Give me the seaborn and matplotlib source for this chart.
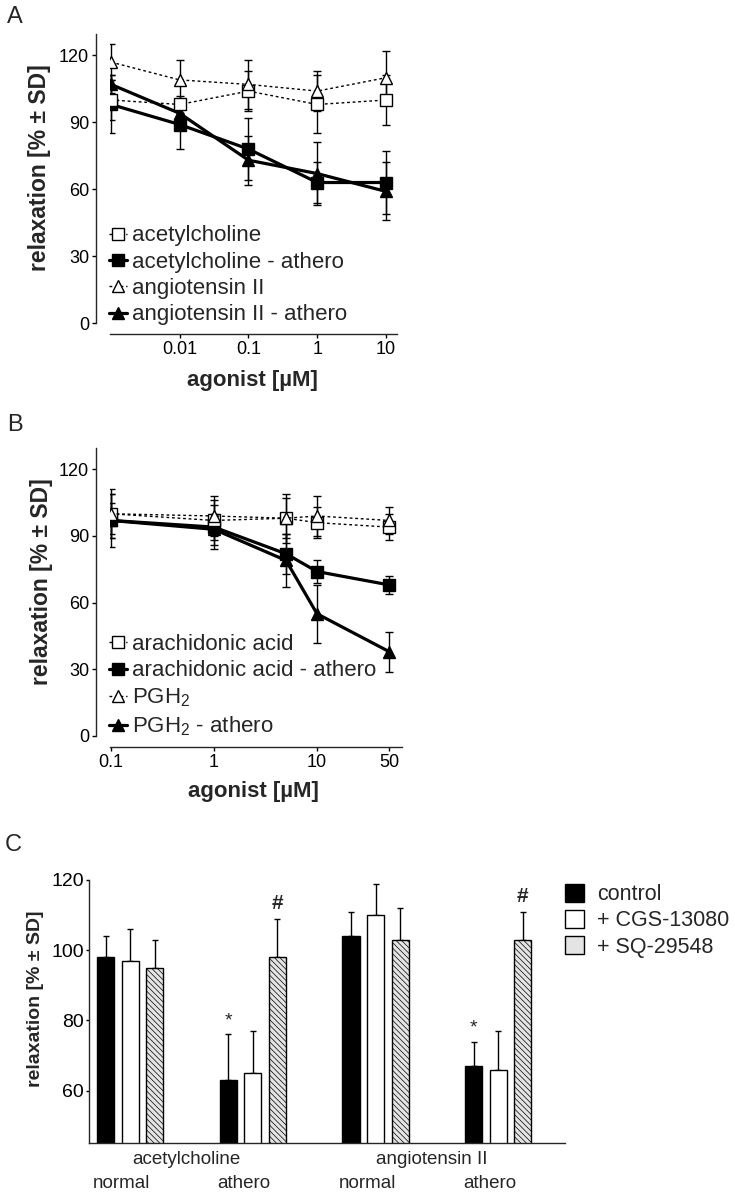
import numpy as np
import pandas as pd
import matplotlib
matplotlib.use("Agg")
import matplotlib.pyplot as plt
import seaborn as sns

# panel A - acetylcholine / angiotensin II
conc_a = [0.001, 0.01, 0.1, 1, 10]
ach = [100, 98, 104, 98, 100]
ach_sd = [9, 4, 9, 13, 11]
ach_ath = [98, 89, 78, 63, 63]
ach_ath_sd = [13, 11, 14, 9, 14]
ang = [117, 109, 107, 104, 110]
ang_sd = [8, 9, 11, 9, 12]
ang_ath = [107, 94, 73, 67, 59]
ang_ath_sd = [4, 5, 11, 14, 13]

# panel B - arachidonic acid / PGH2
conc_b = [0.1, 1, 5, 10, 50]
aa = [100, 97, 98, 96, 94]
aa_sd = [9, 9, 11, 7, 6]
aa_ath = [97, 94, 82, 74, 68]
aa_ath_sd = [12, 10, 9, 5, 4]
pgh = [100, 99, 98, 99, 97]
pgh_sd = [11, 9, 9, 9, 6]
pgh_ath = [97, 93, 79, 55, 38]
pgh_ath_sd = [8, 7, 12, 13, 9]

# panel C - bars
groups = ["acetylcholine normal", "acetylcholine athero", "angiotensin II normal", "angiotensin II athero"]
treatments = ["control", "+ CGS-13080", "+ SQ-29548"]
ctrl = [98, 63, 104, 67]
ctrl_sd = [6, 13, 7, 7]
cgs = [97, 65, 110, 66]
cgs_sd = [9, 12, 9, 11]
sq = [95, 98, 103, 103]
sq_sd = [8, 11, 9, 8]

sns.set_theme(style="ticks")
plt.rcParams["font.family"] = ["Liberation Sans", "DejaVu Sans"]
plt.rcParams["mathtext.fontset"] = "custom"
plt.rcParams["mathtext.rm"] = "Liberation Sans"
plt.rcParams["mathtext.it"] = "Liberation Sans:italic"
plt.rcParams["mathtext.bf"] = "Liberation Sans:bold"
plt.rcParams["axes.linewidth"] = 1.0
plt.rcParams["hatch.linewidth"] = 0.5

W, H = 735, 1199
fig = plt.figure(figsize=(W / 100, H / 100), dpi=100)


def box(l, r, t, b):
    return [l / W, 1 - b / H, (r - l) / W, (b - t) / H]


def curve(ax, x, y, sd, label, marker, filled):
    ax.errorbar(x, y, yerr=sd, fmt="none", ecolor="black", elinewidth=1,
                capsize=3, capthick=1, zorder=2)
    if filled:
        sns.lineplot(x=x, y=y, ax=ax, color="black", lw=2.3, marker=marker,
                     markersize=8, mfc="black", mec="black", mew=1,
                     errorbar=None, label=label, zorder=3)
    else:
        sns.lineplot(x=x, y=y, ax=ax, color="black", lw=1, ls=(0, (2, 2)),
                     marker=marker, markersize=8, mfc="white", mec="black",
                     mew=1, errorbar=None, label=label, zorder=4)


def style_line_axes(ax, xticks, xlabels, xlim):
    ax.set_xscale("log")
    ax.set_xlim(*xlim)
    ax.set_ylim(0, 129.6)
    ax.set_yticks([0, 30, 60, 90, 120])
    ax.set_xticks(xticks)
    ax.set_xticklabels(xlabels)
    ax.minorticks_off()
    ax.tick_params(axis="both", labelsize=13, length=3, width=1, pad=2,
                   colors="black")
    sns.despine(ax=ax, offset=dict(left=10, bottom=8))
    ax.set_xlabel("agonist [µM]", fontsize=16, fontweight="bold", va="center")
    ax.set_ylabel("relaxation [% ± SD]", fontsize=16.5, fontweight="bold", va="center")
    ax.legend(loc="lower left", bbox_to_anchor=(-0.005, -0.008), frameon=False,
              fontsize=16, handlelength=0.85, handletextpad=0.2,
              labelspacing=0.24, borderpad=0, borderaxespad=0)


# ---- A
ax_a = fig.add_axes(box(110, 397, 34, 323))
curve(ax_a, conc_a, ach, ach_sd, "acetylcholine", "s", False)
curve(ax_a, conc_a, ach_ath, ach_ath_sd, "acetylcholine - athero", "s", True)
curve(ax_a, conc_a, ang, ang_sd, "angiotensin II", "^", False)
curve(ax_a, conc_a, ang_ath, ang_ath_sd, "angiotensin II - athero", "^", True)
style_line_axes(ax_a, [0.01, 0.1, 1, 10], ["0.01", "0.1", "1", "10"],
                (10 ** -3.0145, 10 ** 1.16))
ax_a.xaxis.set_label_coords(0.495, -0.2)
ax_a.yaxis.set_label_coords(-0.244, 0.538)

# ---- B
ax_b = fig.add_axes(box(110, 402, 448, 736))
curve(ax_b, conc_b, aa, aa_sd, "arachidonic acid", "s", False)
curve(ax_b, conc_b, aa_ath, aa_ath_sd, "arachidonic acid - athero", "s", True)
curve(ax_b, conc_b, pgh, pgh_sd, "PGH$_2$", "^", False)
curve(ax_b, conc_b, pgh_ath, pgh_ath_sd, "PGH$_2$ - athero", "^", True)
style_line_axes(ax_b, [0.1, 1, 10, 50], ["0.1", "1", "10", "50"],
                (10 ** -1.0097, 10 ** 1.825))
ax_b.xaxis.set_label_coords(0.491, -0.191)
ax_b.yaxis.set_label_coords(-0.236, 0.535)

# ---- C
df_c = pd.DataFrame({
    "group": np.repeat(groups, 3),
    "treatment": treatments * 4,
    "value": np.column_stack([ctrl, cgs, sq]).ravel(),
    "sd": np.column_stack([ctrl_sd, cgs_sd, sq_sd]).ravel(),
})

ax_c = fig.add_axes(box(89, 565, 880, 1143))
sns.barplot(data=df_c, x="group", y="value", hue="treatment", order=groups,
            hue_order=treatments, palette=["black", "white", "#e4e4e4"],
            edgecolor="black", linewidth=1, width=0.6, gap=0.3,
            errorbar=None, ax=ax_c, zorder=2)
for p in ax_c.containers[2]:
    p.set_hatch("\\\\\\\\\\\\")

sds = [ctrl_sd, cgs_sd, sq_sd]
for cont, sd in zip(ax_c.containers, sds):
    xs = [p.get_x() + p.get_width() / 2 for p in cont]
    ys = [p.get_height() for p in cont]
    ax_c.errorbar(xs, ys, yerr=[np.zeros(len(sd)), sd], fmt="none",
                  ecolor="black", elinewidth=1, capsize=2.5, capthick=1, zorder=1)

# significance marks
ctrl_bars = list(ax_c.containers[0])
sq_bars = list(ax_c.containers[2])
for i in (1, 3):
    b = ctrl_bars[i]
    ax_c.text(b.get_x() + b.get_width() / 2, ctrl[i] + ctrl_sd[i] + 1.5, "*",
              ha="center", va="bottom", fontsize=14)
    b = sq_bars[i]
    ax_c.text(b.get_x() + b.get_width() / 2, sq[i] + sq_sd[i] + 1.5, "#",
              ha="center", va="bottom", fontsize=15, fontweight="bold")

ax_c.set_xlim(-0.335, 3.543)
ax_c.set_ylim(45.1, 120)
ax_c.set_yticks([60, 80, 100, 120])
ax_c.set_xticks([])
ax_c.set_xlabel("")
ax_c.tick_params(axis="y", length=2.5, width=1, pad=1, colors="black",
                 labelsize=14)
sns.despine(ax=ax_c)
ax_c.set_ylabel("relaxation [% ± SD]", fontsize=14, fontweight="bold", va="center")
ax_c.yaxis.set_label_coords(-0.113, 0.548)

trans = ax_c.get_xaxis_transform()
ax_c.text(0.46, -0.061, "acetylcholine", transform=trans, ha="center", va="center",
          fontsize=13.5)
ax_c.text(2.46, -0.061, "angiotensin II", transform=trans, ha="center", va="center",
          fontsize=13.5)
for g, sub in zip(range(4), ["normal", "athero", "normal", "athero"]):
    ax_c.text(g - 0.07, -0.155, sub, transform=trans, ha="center", va="center",
              fontsize=13.5)

h, l = ax_c.get_legend_handles_labels()
ax_c.legend(h, l, loc="upper left", bbox_to_anchor=(1.0, 0.985), frameon=False,
            fontsize=15.5, handlelength=0.9, handleheight=0.9, handletextpad=0.6,
            labelspacing=0.22, borderpad=0, borderaxespad=0)

# panel letters
fig.text(15 / W, 1 - 17 / H, "A", ha="center", va="center", fontsize=17)
fig.text(15 / W, 1 - 425 / H, "B", ha="center", va="center", fontsize=17)
fig.text(13 / W, 1 - 845 / H, "C", ha="center", va="center", fontsize=17)

fig.savefig("out.png", dpi=100)
